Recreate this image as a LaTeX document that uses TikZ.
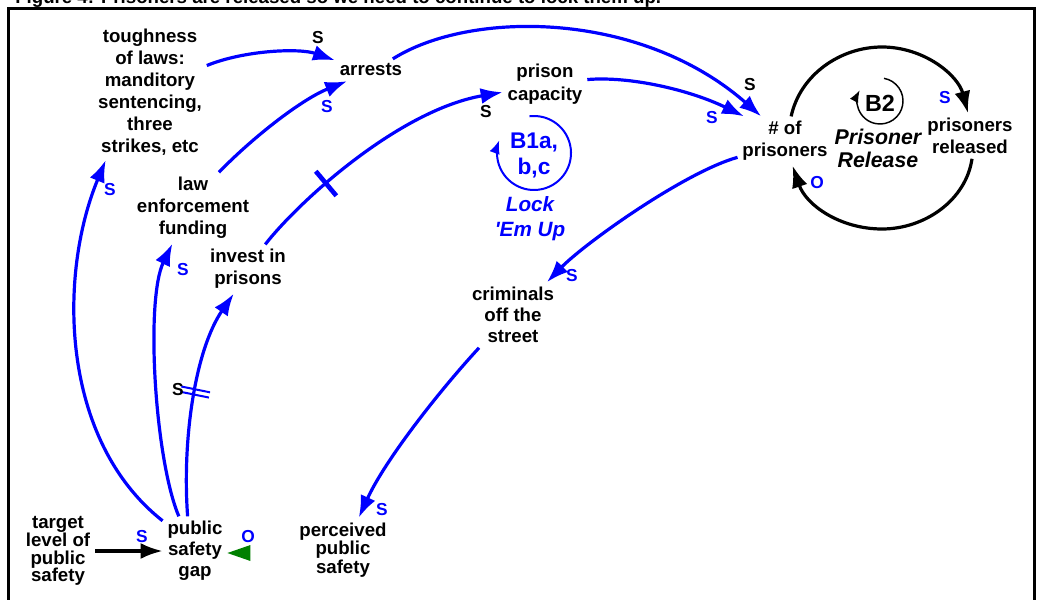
\documentclass[tikz,border=0pt]{standalone}
\usepackage{fontspec}
\setmainfont{Liberation Sans}
\usetikzlibrary{arrows.meta,decorations.markings}
\definecolor{cldblue}{RGB}{0,0,255}
\definecolor{cldgreen}{RGB}{0,128,0}
\begin{document}
\begin{tikzpicture}[x=0.75pt,y=-0.75pt,
  var/.style={align=center, inner sep=3.5pt, font=\fontsize{14}{16.5}\selectfont\bfseries},
  lbl/.style={inner sep=0pt, font=\fontsize{13}{14}\selectfont\bfseries},
  blbl/.style={lbl, text=cldblue},
  link/.style={draw=cldblue, line width=2.4pt, -{Latex[length=16.5pt,width=12pt]}},
  blk/.style={draw=black, line width=2.4pt, -{Latex[length=16.5pt,width=12pt]}},
  onebar/.style={postaction={decorate}, decoration={markings, mark=at position #1 with {\draw[cldblue, line width=3.5pt, -] (0pt,-12pt) -- (0pt,12pt);}}},
  twobar/.style={postaction={decorate}, decoration={markings, mark=at position #1 with {\draw[cldblue, line width=1.5pt, -] (-2pt,-11pt) -- (-2pt,11pt) (2pt,-11pt) -- (2pt,11pt);}}}
]
\useasboundingbox (0,0) rectangle (1037,599);
\clip (0,0) rectangle (1037,599);

% title (cut off by the top edge, as in the reference)
\node[anchor=base west, inner sep=0pt, font=\fontsize{14}{16}\selectfont\bfseries] (title) at (15,4) {Figure 4: Prisoners are released so we need to continue to lock them up.};

% frame
\draw[line width=2.25pt] (8,9) rectangle (1034,650);

% variables
\node[var] (tough) at (150,92) {toughness\\of laws:\\manditory\\sentencing,\\three\\strikes, etc};
\node[var] (arrests) at (371,70) {arrests};
\node[var, font=\fontsize{14}{17}\selectfont\bfseries] (cap) at (545,84) {prison\\capacity};
\node[var] (npr) at (785,141) {\# of\\prisoners};
\node[var] (rel) at (970,136) {prisoners\\released};
\node[var] (law) at (193,208) {law\\enforcement\\funding};
\node[var] (inv) at (248,269) {invest in\\prisons};
\node[var, font=\fontsize{14}{15.75}\selectfont\bfseries] (crim) at (513,315) {criminals\\off the\\street};
\node[var, font=\fontsize{14}{13.3}\selectfont\bfseries] (target) at (58,551) {target\\level of\\public\\safety};
\node[var, font=\fontsize{14}{15.75}\selectfont\bfseries] (gap) at (195,551) {public\\safety\\gap};
\node[var, font=\fontsize{14}{12.75}\selectfont\bfseries] (perc) at (343,550) {perceived\\public\\safety};

% loop labels
\node[align=center, inner sep=0pt, text=cldblue, font=\fontsize{17}{19.5}\selectfont\bfseries] (b1) at (534,155) {B1a,\\b,c};
\draw[cldblue, line width=1.5pt, -{Latex[length=10pt,width=8pt]}] ([shift={(97:27.75pt)}]534,153) arc[start angle=97, end angle=-200, radius=27.75pt];
\node[align=center, inner sep=0pt, text=cldblue, font=\fontsize{15.5}{18.75}\selectfont\bfseries\itshape] (lock) at (530,219) {Lock\\\textquotesingle Em Up};

\node[inner sep=0pt, font=\fontsize{17.5}{20}\selectfont\bfseries] (b2) at (880,103) {B2};
\draw[black, line width=1.1pt, -{Latex[length=9pt,width=7pt]}] ([shift={(80:17.25pt)}]880,101) arc[start angle=80, end angle=-208, radius=17.25pt];
\node[align=center, inner sep=0pt, font=\fontsize{16}{17.25}\selectfont\bfseries\itshape] (relname) at (878,148) {Prisoner\\Release};

% connectors
\draw[link] (tough.25) .. controls (245,50) and (300,48) .. (arrests.165);
\draw[link] (law.54) .. controls (250,140) and (300,100) .. (arrests.205);
\draw[link] (arrests.27) .. controls (470,10) and (640,10) .. (npr.134);
\draw[link] (cap.6) .. controls (630,76) and (690,90) .. (npr.149);
\draw[link, onebar=0.3] (inv.55) .. controls (300,200) and (400,110) .. (cap.191);
\draw[link] (npr.199) .. controls (685,172) and (585,243) .. (crim.44);
\draw[link] (crim.224) .. controls (440,390) and (385,460) .. (perc.64);
\draw[link] (gap.137) .. controls (60,440) and (58,275) .. (tough.237);
\draw[link] (gap.115) .. controls (155,460) and (145,300) .. (law.240);
\draw[link, twobar=0.54] (gap.102) .. controls (182,440) and (195,350) .. (inv.240);
\draw[blk] (target.east) -- (gap.west);
\fill[cldgreen] ([yshift=-1.5pt]gap.east) -- ++(23,-8) -- ++(0,16) -- cycle;

\draw[blk] (npr.76) .. controls (800,75) and (840,47) .. (882,47) .. controls (924,47) and (958,75) .. (rel.95);
\draw[blk] (rel.-85) .. controls (966,200) and (925,229) .. (882,229) .. controls (840,229) and (806,205) .. (npr.-73);

% polarity labels
\node[lbl] (s1) at (318,38) {S};
\node[blbl] (s2) at (327,107) {S};
\node[lbl] (s3) at (486,112) {S};
\node[lbl] (s4) at (750,85) {S};
\node[blbl] (s5) at (712,118) {S};
\node[blbl] (s6) at (572,276) {S};
\node[blbl] (s7) at (382,510) {S};
\node[blbl] (s8) at (110,190) {S};
\node[blbl] (s9) at (183,270) {S};
\node[lbl] (s10) at (178,390) {S};
\node[blbl] (s11) at (142,537) {S};
\node[blbl] (o1) at (248,537) {O};
\node[blbl] (s12) at (945,98) {S};
\node[blbl] (o2) at (817,183) {O};
\end{tikzpicture}
\end{document}
